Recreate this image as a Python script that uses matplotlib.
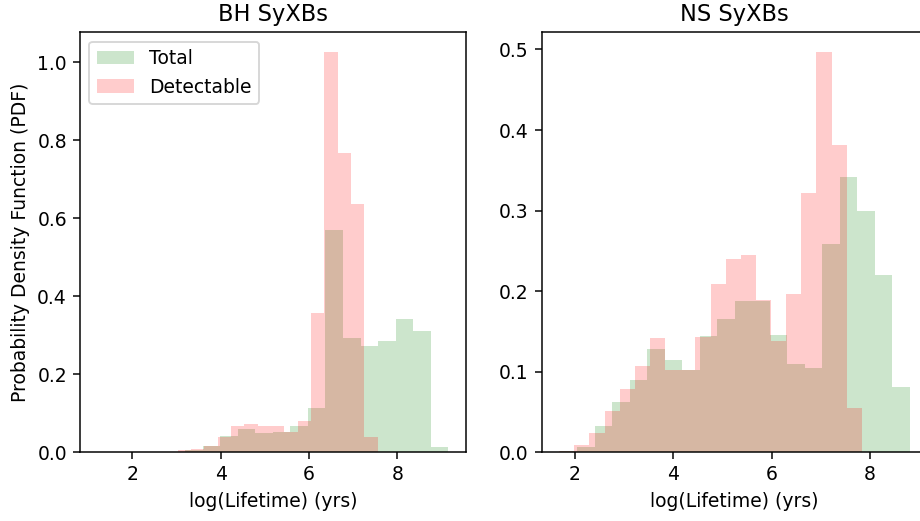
import numpy as np
import matplotlib.pyplot as plt

# BH SyXBs: histogram ranges (log yrs) and PDF heights, 20 bins each
bh_total_range = (1.211, 9.151)
bh_total_pdf = [0, 0, 0, 0, 0, 0.005, 0.017, 0.042, 0.060, 0.049,
                0.051, 0.068, 0.113, 0.570, 0.294, 0.273, 0.285, 0.343, 0.310, 0.0136]
bh_det_range = (1.514, 7.554)
bh_det_pdf = [0, 0, 0, 0, 0, 0.005, 0.008, 0.017, 0.040, 0.068,
              0.073, 0.068, 0.067, 0.052, 0.080, 0.356, 1.026, 0.767, 0.636, 0.039]

# NS SyXBs
ns_total_range = (1.690, 8.810)
ns_total_pdf = [0.002, 0.007, 0.033, 0.062, 0.090, 0.128, 0.114, 0.102, 0.144, 0.166,
                0.188, 0.188, 0.145, 0.110, 0.105, 0.259, 0.342, 0.300, 0.220, 0.0815]
ns_det_range = (1.678, 7.834)
ns_det_pdf = [0.002, 0.009, 0.024, 0.051, 0.078, 0.107, 0.142, 0.102, 0.102, 0.143,
              0.2085, 0.240, 0.2445, 0.189, 0.138, 0.196, 0.3215, 0.4965, 0.382, 0.0554]


def draw_hist(ax, rng, pdf, color, label):
    edges = np.linspace(rng[0], rng[1], len(pdf) + 1)
    ax.hist(edges[:-1], bins=edges, weights=pdf, color=color, alpha=0.2, label=label)


fig = plt.figure(figsize=(920 / 135, 521 / 135), dpi=135)
ax1 = fig.add_axes([0.087, 0.1319, 0.4192, 0.8061])
ax2 = fig.add_axes([0.5888, 0.1319, 0.4192, 0.8061])

draw_hist(ax1, bh_total_range, bh_total_pdf, "g", "Total")
draw_hist(ax1, bh_det_range, bh_det_pdf, "r", "Detectable")
ax1.set_title("BH SyXBs")
ax1.set_xlabel("log(Lifetime) (yrs)")
ax1.set_ylabel("Probability Density Function (PDF)")
ax1.legend(loc="upper left")

draw_hist(ax2, ns_total_range, ns_total_pdf, "g", "Total")
draw_hist(ax2, ns_det_range, ns_det_pdf, "r", "Detectable")
ax2.set_title("NS SyXBs")
ax2.set_xlabel("log(Lifetime) (yrs)")

fig.savefig("out.png", dpi=135)
